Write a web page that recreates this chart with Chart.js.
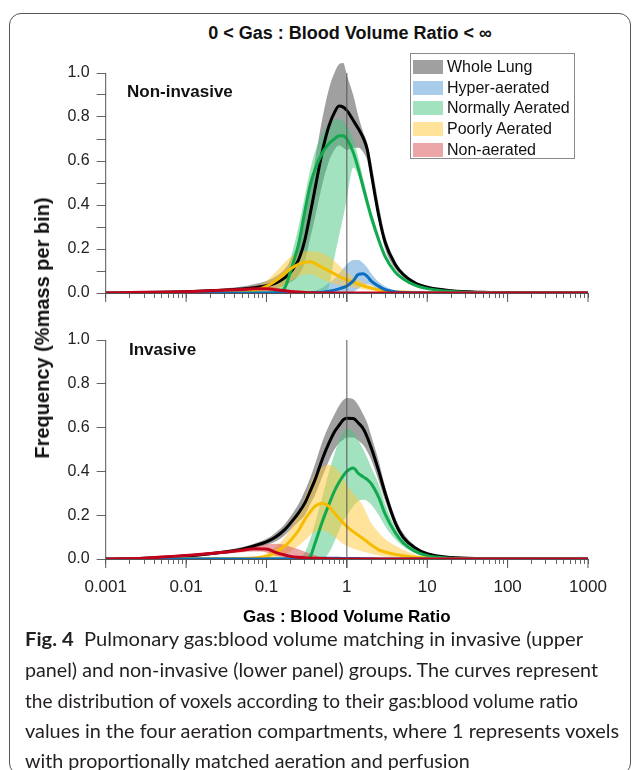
<!DOCTYPE html>
<html>
<head>
<meta charset="utf-8">
<script src="https://cdn.jsdelivr.net/npm/chart.js@4.4.0/dist/chart.umd.min.js"></script>
<style>
  html, body { margin: 0; padding: 0; background: #fff; }
  body { width: 632px; height: 770px; position: relative; overflow: hidden;
         font-family: "Liberation Sans", Arial, sans-serif; color: #111; }
  #border { position: absolute; left: 9px; top: 13px; width: 622px; height: 762px;
            border: 1.5px solid #555; border-radius: 12px; box-sizing: border-box; }
  canvas { position: absolute; left: 0; }
  #topChart { top: 40px; }
  #bottomChart { top: 320px; }
  .abs { position: absolute; white-space: nowrap; }
  #title { left: 0; width: 700px; top: 22px; text-align: center; font-weight: bold; font-size: 18px; line-height: 22px; }
  .panel { font-weight: bold; font-size: 17px; line-height: 20px; }
  #ytitle { left: 42px; top: 328px; font-weight: bold; font-size: 20px; line-height: 22px;
            transform: translate(-50%, -50%) rotate(-90deg); }
  #legend { left: 410px; top: 53px; width: 165px; height: 106px; border: 1px solid #8a8a8a;
            background: #fff; box-sizing: border-box; }
  .row { position: absolute; left: 2px; height: 20px; font-size: 16px; line-height: 20px; }
  .sw { position: absolute; left: 0; top: 3px; width: 30px; height: 14px; }
  .row span.t { position: absolute; left: 34px; top: 0; }
  .cap { left: 25px; font-family: Lato, "Open Sans", sans-serif; font-size: 19.5px; line-height: 30px;
         color: #231f20; transform-origin: 0 50%; }
  .cap b { font-weight: bold; }
</style>
</head>
<body>
<div id="border"></div>
<div id="title" class="abs">0 &lt; Gas : Blood Volume Ratio &lt; ∞</div>
<canvas id="topChart" width="632" height="275"></canvas>
<canvas id="bottomChart" width="632" height="310"></canvas>
<div class="abs panel" style="left:127px; top:82px;">Non-invasive</div>
<div class="abs panel" style="left:129px; top:340px;">Invasive</div>
<div id="ytitle" class="abs">Frequency (%mass per bin)</div>
<div id="legend" class="abs"></div>
<div class="abs cap" style="top:624px;" data-w="558"><b>Fig. 4</b>&nbsp; Pulmonary gas:blood volume matching in invasive (upper</div>
<div class="abs cap" style="top:655px;" data-w="573">panel) and non-invasive (lower panel) groups. The curves represent</div>
<div class="abs cap" style="top:686px;" data-w="553">the distribution of voxels according to their gas:blood volume ratio</div>
<div class="abs cap" style="top:716px;" data-w="594">values in the four aeration compartments, where 1 represents voxels</div>
<div class="abs cap" style="top:746px;">with proportionally matched aeration and perfusion</div>

<script>
// shared x grid: gas:blood volume ratio
const ratio = [0.001, 0.003, 0.01, 0.02, 0.05, 0.07, 0.1, 0.13, 0.17, 0.2,
  0.25, 0.3, 0.35, 0.4, 0.5, 0.6, 0.7, 0.8, 0.9, 1,
  1.2, 1.4, 1.6, 1.8, 2, 2.5, 3, 4, 5, 7,
  10, 20, 50, 100, 1000];

const xTickLabels = ['0.001', '0.01', '0.1', '1', '10', '100', '1000'];
const yTickLabels = ['0.0', '0.2', '0.4', '0.6', '0.8', '1.0'];
const compartments = ['Whole Lung', 'Hyper-aerated', 'Normally Aerated', 'Poorly Aerated', 'Non-aerated'];

// Non-invasive (upper panel): mean, upper and lower band
const niWholeMean = [0, 0.002, 0.006, 0.01, 0.018, 0.024, 0.033, 0.045, 0.07, 0.095, 0.15, 0.24, 0.36, 0.47, 0.65, 0.76, 0.82, 0.85, 0.845, 0.83, 0.785, 0.745, 0.705, 0.65, 0.55, 0.35, 0.23, 0.13, 0.085, 0.046, 0.026, 0.01, 0.003, 0.001, 0];
const niWholeHi = [0, 0.003, 0.01, 0.016, 0.03, 0.04, 0.055, 0.075, 0.11, 0.15, 0.23, 0.34, 0.47, 0.6, 0.8, 0.93, 1.0, 1.04, 1.045, 0.99, 0.9, 0.8, 0.73, 0.68, 0.6, 0.4, 0.26, 0.145, 0.095, 0.055, 0.032, 0.013, 0.004, 0.001, 0];
const niWholeLo = [0, 0.001, 0.003, 0.005, 0.009, 0.012, 0.015, 0.022, 0.035, 0.05, 0.08, 0.14, 0.25, 0.34, 0.5, 0.6, 0.65, 0.67, 0.66, 0.65, 0.66, 0.66, 0.64, 0.6, 0.52, 0.33, 0.2, 0.11, 0.075, 0.038, 0.02, 0.007, 0.002, 0, 0];
const niHyperMean = [0, 0, 0, 0, 0, 0, 0, 0, 0, 0, 0, 0, 0.001, 0.002, 0.004, 0.008, 0.013, 0.019, 0.025, 0.032, 0.055, 0.085, 0.087, 0.075, 0.055, 0.03, 0.015, 0.005, 0.002, 0.001, 0, 0, 0, 0, 0];
const niHyperHi = [0, 0, 0, 0, 0, 0, 0, 0, 0, 0, 0, 0.003, 0.006, 0.01, 0.025, 0.045, 0.065, 0.09, 0.11, 0.13, 0.15, 0.15, 0.135, 0.115, 0.09, 0.05, 0.03, 0.012, 0.006, 0.002, 0, 0, 0, 0, 0];
const niHyperLo = [0, 0, 0, 0, 0, 0, 0, 0, 0, 0, 0, 0, 0, 0, 0, 0, 0, 0, 0, 0, 0.005, 0.02, 0.035, 0.04, 0.035, 0.015, 0.006, 0.001, 0, 0, 0, 0, 0, 0, 0];
const niNormMean = [0, 0, 0, 0, 0, 0, 0, 0.001, 0.025, 0.1, 0.22, 0.37, 0.49, 0.56, 0.64, 0.68, 0.70, 0.715, 0.715, 0.70, 0.64, 0.56, 0.48, 0.41, 0.35, 0.24, 0.165, 0.095, 0.065, 0.036, 0.02, 0.007, 0.002, 0, 0];
const niNormHi = [0, 0, 0, 0, 0, 0, 0.005, 0.02, 0.08, 0.16, 0.3, 0.44, 0.56, 0.64, 0.73, 0.77, 0.79, 0.79, 0.78, 0.76, 0.7, 0.61, 0.52, 0.44, 0.37, 0.255, 0.175, 0.1, 0.07, 0.039, 0.022, 0.008, 0.002, 0, 0];
const niNormLo = [0, 0, 0, 0, 0, 0, 0, 0, 0, 0, 0, 0, 0, 0, 0, 0.03, 0.16, 0.26, 0.345, 0.43, 0.57, 0.53, 0.45, 0.38, 0.32, 0.22, 0.15, 0.085, 0.058, 0.032, 0.017, 0.006, 0.001, 0, 0];
const niPoorMean = [0, 0, 0, 0.001, 0.005, 0.012, 0.03, 0.055, 0.09, 0.11, 0.13, 0.14, 0.142, 0.135, 0.115, 0.1, 0.087, 0.076, 0.067, 0.06, 0.05, 0.04, 0.033, 0.027, 0.022, 0.014, 0.01, 0.006, 0.004, 0.002, 0.001, 0, 0, 0, 0];
const niPoorHi = [0, 0, 0, 0.002, 0.01, 0.025, 0.055, 0.095, 0.14, 0.165, 0.18, 0.19, 0.19, 0.19, 0.18, 0.165, 0.145, 0.125, 0.11, 0.095, 0.075, 0.06, 0.05, 0.04, 0.033, 0.022, 0.015, 0.009, 0.006, 0.003, 0.001, 0, 0, 0, 0];
const niPoorLo = [0, 0, 0, 0, 0, 0, 0.005, 0.015, 0.035, 0.055, 0.075, 0.085, 0.085, 0.08, 0.06, 0.05, 0.042, 0.037, 0.033, 0.03, 0.025, 0.02, 0.017, 0.014, 0.012, 0.007, 0.005, 0.003, 0.002, 0, 0, 0, 0, 0, 0];
const niNonMean = [0, 0.003, 0.006, 0.01, 0.016, 0.019, 0.019, 0.015, 0.01, 0.007, 0.004, 0.002, 0.001, 0.001, 0, 0, 0, 0, 0, 0, 0, 0, 0, 0, 0, 0, 0, 0, 0, 0, 0, 0, 0, 0, 0];
const niNonHi = [0, 0.004, 0.009, 0.015, 0.024, 0.028, 0.028, 0.024, 0.017, 0.012, 0.008, 0.005, 0.003, 0.002, 0.001, 0, 0, 0, 0, 0, 0, 0, 0, 0, 0, 0, 0, 0, 0, 0, 0, 0, 0, 0, 0];
const niNonLo = [0, 0.002, 0.003, 0.005, 0.008, 0.01, 0.01, 0.006, 0.003, 0.002, 0, 0, 0, 0, 0, 0, 0, 0, 0, 0, 0, 0, 0, 0, 0, 0, 0, 0, 0, 0, 0, 0, 0, 0, 0];

// Invasive (lower panel)
const invWholeMean = [0, 0.004, 0.014, 0.024, 0.045, 0.06, 0.078, 0.1, 0.135, 0.165, 0.21, 0.255, 0.31, 0.36, 0.46, 0.53, 0.58, 0.61, 0.635, 0.643, 0.642, 0.62, 0.595, 0.555, 0.51, 0.4, 0.3, 0.165, 0.1, 0.052, 0.024, 0.007, 0.002, 0.001, 0];
const invWholeHi = [0, 0.005, 0.017, 0.03, 0.055, 0.07, 0.092, 0.12, 0.16, 0.195, 0.25, 0.31, 0.37, 0.43, 0.54, 0.61, 0.66, 0.7, 0.725, 0.735, 0.73, 0.7, 0.66, 0.62, 0.565, 0.445, 0.33, 0.19, 0.12, 0.062, 0.03, 0.009, 0.002, 0.001, 0];
const invWholeLo = [0, 0.003, 0.011, 0.018, 0.035, 0.05, 0.064, 0.08, 0.11, 0.135, 0.17, 0.2, 0.25, 0.29, 0.38, 0.45, 0.5, 0.53, 0.545, 0.555, 0.555, 0.54, 0.52, 0.49, 0.455, 0.355, 0.265, 0.15, 0.09, 0.048, 0.02, 0.005, 0.001, 0, 0];
const invHyperMean = [0, 0, 0, 0, 0, 0, 0, 0, 0, 0, 0, 0, 0, 0.002, 0.003, 0.003, 0.003, 0.003, 0.002, 0.002, 0.002, 0.002, 0.001, 0.001, 0.001, 0, 0, 0, 0, 0, 0, 0, 0, 0, 0];
const invHyperHi = [0, 0, 0, 0, 0, 0, 0, 0, 0, 0.001, 0.002, 0.003, 0.004, 0.006, 0.006, 0.006, 0.006, 0.005, 0.005, 0.005, 0.004, 0.004, 0.003, 0.002, 0.002, 0.001, 0, 0, 0, 0, 0, 0, 0, 0, 0];
const invHyperLo = [0, 0, 0, 0, 0, 0, 0, 0, 0, 0, 0, 0, 0, 0, 0, 0, 0, 0, 0, 0, 0, 0, 0, 0, 0, 0, 0, 0, 0, 0, 0, 0, 0, 0, 0];
const invNormMean = [0, 0, 0, 0, 0, 0, 0, 0, 0, 0, 0, 0, 0.01, 0.07, 0.175, 0.25, 0.31, 0.35, 0.38, 0.4, 0.415, 0.39, 0.375, 0.362, 0.345, 0.28, 0.205, 0.12, 0.075, 0.036, 0.015, 0.004, 0.001, 0, 0];
const invNormHi = [0, 0, 0, 0, 0, 0, 0, 0, 0, 0, 0.005, 0.03, 0.09, 0.16, 0.29, 0.4, 0.48, 0.54, 0.58, 0.595, 0.58, 0.54, 0.5, 0.46, 0.42, 0.34, 0.25, 0.145, 0.09, 0.045, 0.02, 0.006, 0.001, 0, 0];
const invNormLo = [0, 0, 0, 0, 0, 0, 0, 0, 0, 0, 0, 0, 0, 0, 0, 0.03, 0.08, 0.13, 0.17, 0.2, 0.24, 0.265, 0.27, 0.265, 0.25, 0.2, 0.15, 0.09, 0.058, 0.027, 0.01, 0.002, 0, 0, 0];
const invPoorMean = [0, 0, 0, 0, 0.002, 0.005, 0.012, 0.03, 0.06, 0.085, 0.13, 0.18, 0.215, 0.24, 0.255, 0.24, 0.21, 0.185, 0.165, 0.148, 0.125, 0.108, 0.092, 0.078, 0.065, 0.042, 0.032, 0.021, 0.015, 0.008, 0.004, 0.001, 0, 0, 0];
const invPoorHi = [0, 0, 0, 0, 0.004, 0.01, 0.025, 0.055, 0.1, 0.14, 0.21, 0.28, 0.34, 0.39, 0.42, 0.43, 0.42, 0.4, 0.37, 0.34, 0.3, 0.27, 0.24, 0.2, 0.165, 0.12, 0.09, 0.06, 0.042, 0.022, 0.01, 0.003, 0, 0, 0];
const invPoorLo = [0, 0, 0, 0, 0, 0, 0.003, 0.008, 0.02, 0.035, 0.06, 0.085, 0.11, 0.125, 0.13, 0.12, 0.1, 0.085, 0.07, 0.06, 0.048, 0.04, 0.033, 0.028, 0.024, 0.016, 0.011, 0.007, 0.004, 0.002, 0, 0, 0, 0, 0];
const invNonMean = [0, 0.004, 0.016, 0.025, 0.04, 0.047, 0.046, 0.03, 0.018, 0.012, 0.008, 0.006, 0.004, 0.003, 0.002, 0.001, 0, 0, 0, 0, 0, 0, 0, 0, 0, 0, 0, 0, 0, 0, 0, 0, 0, 0, 0];
const invNonHi = [0, 0.005, 0.019, 0.03, 0.048, 0.058, 0.066, 0.07, 0.065, 0.055, 0.045, 0.033, 0.024, 0.017, 0.008, 0.004, 0.002, 0, 0, 0, 0, 0, 0, 0, 0, 0, 0, 0, 0, 0, 0, 0, 0, 0, 0];
const invNonLo = [0, 0.003, 0.012, 0.019, 0.031, 0.034, 0.03, 0.015, 0.006, 0.003, 0.001, 0, 0, 0, 0, 0, 0, 0, 0, 0, 0, 0, 0, 0, 0, 0, 0, 0, 0, 0, 0, 0, 0, 0, 0];

const bandColors = ['rgba(65,65,65,0.5)', 'rgba(83,153,215,0.5)', 'rgba(69,197,127,0.5)', 'rgba(255,199,53,0.5)', 'rgba(215,75,77,0.5)'];
const swatchColors = ['#a0a0a0', '#a9cceb', '#a2e2bf', '#ffe39a', '#eba5a6'];
const lineColors = ['#000000', '#0b6fc0', '#12a84e', '#f6bd00', '#c3001b'];
// drawing order of the mean lines (higher is drawn first)
const lineOrder = [5, 2, 4, 3, 1];

Chart.defaults.font.family = '"Liberation Sans", Arial, sans-serif';
Chart.defaults.color = '#222';

function pts(vals) {
  return ratio.map((x, i) => ({ x: x, y: vals[i] }));
}

function buildDatasets(series) {
  const sets = [];
  series.forEach((s, k) => {
    sets.push({ label: compartments[k] + ' hi', data: pts(s[1]), fill: '+1', backgroundColor: bandColors[k],
      borderWidth: 0, pointRadius: 0, cubicInterpolationMode: 'monotone', order: 20 - k });
    sets.push({ label: compartments[k] + ' lo', data: pts(s[2]), fill: false, borderWidth: 0,
      pointRadius: 0, cubicInterpolationMode: 'monotone', order: 20 - k });
  });
  series.forEach((s, k) => {
    sets.push({ label: compartments[k], data: pts(s[0]), fill: false, borderColor: lineColors[k],
      borderWidth: 3, pointRadius: 0, cubicInterpolationMode: 'monotone', order: lineOrder[k] });
  });
  return sets;
}

// y axis line (0..1), reference line at ratio 1 and longer decade ticks
const panelFrame = {
  id: 'panelFrame',
  afterDatasetsDraw(chart) {
    const { ctx, chartArea, scales: { x, y } } = chart;
    const y0 = y.getPixelForValue(0);
    const y1 = y.getPixelForValue(1);
    ctx.save();
    ctx.strokeStyle = '#555';
    ctx.lineWidth = 1;
    ctx.beginPath();
    ctx.moveTo(chartArea.left, y0);
    ctx.lineTo(chartArea.left, y1);
    const xr = x.getPixelForValue(1);
    ctx.moveTo(xr, y1);
    ctx.lineTo(xr, chartArea.bottom + 9);
    x.ticks.forEach(t => {
      if (t.major) {
        const px = x.getPixelForValue(t.value);
        ctx.moveTo(px, chartArea.bottom);
        ctx.lineTo(px, chartArea.bottom + 9);
      }
    });
    ctx.stroke();
    ctx.restore();
  }
};

function makeChart(id, series, opts) {
  return new Chart(document.getElementById(id), {
    type: 'line',
    data: { datasets: buildDatasets(series) },
    options: {
      responsive: false,
      animation: false,
      devicePixelRatio: 1,
      events: [],
      layout: { padding: { left: 0, right: 44, top: opts.padTop, bottom: 0 } },
      plugins: { legend: { display: false }, tooltip: { enabled: false }, title: { display: false } },
      scales: {
        x: {
          type: 'logarithmic', min: 0.001, max: 1000,
          afterBuildTicks: scale => {
            const ticks = [];
            for (let e = -3; e <= 3; e++) {
              for (let m = 1; m <= 9; m++) {
                if (e === 3 && m > 1) break;
                ticks.push({ value: m * Math.pow(10, e), major: m === 1 });
              }
            }
            scale.ticks = ticks;
          },
          afterFit: scale => { scale.height = opts.xHeight; },
          grid: { drawOnChartArea: false, tickLength: 5, tickColor: '#666' },
          border: { display: true, color: '#555', width: 1 },
          ticks: {
            autoSkip: false, maxRotation: 0, minRotation: 0, padding: 13,
            font: { size: 17 }, color: '#222',
            callback: (v, i, ticks) => (opts.xLabels && ticks[i].major) ? xTickLabels[Math.round(Math.log10(v)) + 3] : ''
          },
          title: opts.xTitle ? { display: true, text: 'Gas : Blood Volume Ratio', color: '#000',
            font: { size: 17, weight: 'bold' }, padding: { top: 0, bottom: 2 } } : { display: false }
        },
        y: {
          min: 0, max: opts.yMax,
          afterBuildTicks: scale => {
            const ticks = [];
            for (let i = 0; i <= 10; i++) ticks.push({ value: i / 10 });
            scale.ticks = ticks;
          },
          afterFit: scale => { scale.width = 105.7; },
          grid: { drawOnChartArea: false, tickLength: 9, tickColor: '#666' },
          border: { display: false },
          ticks: {
            padding: 7, font: { size: 16 }, color: '#222',
            callback: (v, i) => i % 2 === 0 ? yTickLabels[i / 2] : ''
          }
        }
      }
    },
    plugins: [panelFrame]
  });
}

makeChart('topChart', [
  [niWholeMean, niWholeHi, niWholeLo],
  [niHyperMean, niHyperHi, niHyperLo],
  [niNormMean, niNormHi, niNormLo],
  [niPoorMean, niPoorHi, niPoorLo],
  [niNonMean, niNonHi, niNonLo]
], { padTop: 19.8, yMax: 1.06, xHeight: 22, xLabels: false, xTitle: false });

makeChart('bottomChart', [
  [invWholeMean, invWholeHi, invWholeLo],
  [invHyperMean, invHyperHi, invHyperLo],
  [invNormMean, invNormHi, invNormLo],
  [invPoorMean, invPoorHi, invPoorLo],
  [invNonMean, invNonHi, invNonLo]
], { padTop: 20, yMax: 1.0, xHeight: 71, xLabels: true, xTitle: true });

// legend box
const legend = document.getElementById('legend');
compartments.forEach((name, k) => {
  const row = document.createElement('div');
  row.className = 'row';
  row.style.top = (3 + k * 20.7) + 'px';
  row.innerHTML = '<div class="sw" style="background:' + swatchColors[k] + '"></div><span class="t">' + name + '</span>';
  legend.appendChild(row);
});

// fit the full caption lines to their widths; the last line takes the mean scale
let scaleSum = 0, scaleCount = 0;
const capLines = document.querySelectorAll('.cap');
capLines.forEach(el => {
  if (!el.dataset.w) return;
  const s = parseFloat(el.dataset.w) / el.getBoundingClientRect().width;
  el.style.transform = 'scaleX(' + s + ')';
  scaleSum += s; scaleCount++;
});
capLines.forEach(el => {
  if (!el.dataset.w) el.style.transform = 'scaleX(' + (scaleSum / scaleCount) + ')';
});
</script>
</body>
</html>
